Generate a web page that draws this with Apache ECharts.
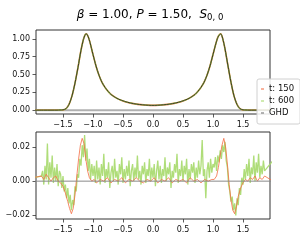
<!DOCTYPE html>
<html><head><meta charset="utf-8">
<script src="https://cdn.jsdelivr.net/npm/echarts@6/dist/echarts.min.js"></script>
<style>html,body{margin:0;padding:0;background:#fff}#c{width:300px;height:250px}</style>
</head><body><div id="c"></div>
<script>
// ---- data ----
const xTicks = [-1.5, -1.0, -0.5, 0.0, 0.5, 1.0, 1.5];
const yTicksTop = [0, 0.25, 0.5, 0.75, 1.0];
const yTicksBottom = [-0.02, 0, 0.02];
const seriesNames = ['t: 150', 't: 600', 'GHD'];

const topX = [-2.0,-1.8,-1.6,-1.55,-1.5,-1.45,-1.4,-1.35,-1.3,-1.25,-1.2,-1.16,-1.13,-1.11,-1.08,-1.05,-1.0,-0.95,-0.9,-0.85,-0.8,-0.75,-0.7,-0.6,-0.5,-0.4,-0.3,-0.2,-0.1,0,
  0.1,0.2,0.3,0.4,0.5,0.6,0.7,0.75,0.8,0.85,0.9,0.95,1.0,1.05,1.08,1.11,1.13,1.16,1.2,1.25,1.3,1.35,1.4,1.45,1.5,1.55,1.6,1.8,2.0];
const topGHD = [0,0,0,0.002,0.004,0.02,0.08,0.2,0.38,0.6,0.84,0.99,1.06,1.07,1.03,0.95,0.78,0.62,0.49,0.39,0.32,0.265,0.22,0.165,0.13,0.105,0.088,0.077,0.07,0.067,
  0.07,0.077,0.088,0.105,0.13,0.165,0.22,0.265,0.32,0.39,0.49,0.62,0.78,0.94,1.02,1.06,1.07,1.01,0.86,0.62,0.39,0.2,0.08,0.02,0.004,0.002,0,0,0];
const topT150 = topGHD;   // indistinguishable from GHD in the picture
const topT600 = topGHD;

// t: 600 minus GHD, sampled from -1.86 every 0.02
const t600Start = -1.86, t600Step = 0.02;
const t600Diff = [
  0.003,0.006,-0.002,0.009,0.001,0.022,-0.002,0.011,0.002,0.015,-0.001,0.008,0.000,0.010,-0.003,0.006,
  0.004,-0.004,0.003,-0.006,-0.002,-0.010,-0.004,-0.013,-0.008,-0.017,-0.011,-0.014,-0.003,
  -0.006,0.004,0.002,0.013,0.009,0.021,0.014,0.027,0.012,0.019,0.006,0.013,0.001,0.010,
  0.003,0.009,-0.001,0.012,0.001,0.008,-0.002,0.010,0.003,0.016,-0.001,0.007,0.002,0.011,-0.004,0.005,0.009,0.000,0.013,0.002,
  0.006,-0.002,0.010,0.004,0.014,-0.001,0.007,0.001,0.009,0.003,0.012,-0.003,0.006,0.010,0.000,0.008,0.002,0.015,0.001,0.006,
  -0.002,0.009,0.004,0.011,-0.001,0.007,0.003,0.013,0.000,0.008,0.002,0.010,-0.003,0.006,0.012,0.001,0.009,-0.001,0.007,0.003,
  0.014,0.000,0.008,0.004,0.011,-0.004,0.006,0.002,0.010,0.005,0.016,-0.001,0.007,0.003,0.012,0.000,0.009,0.004,0.013,-0.002,
  0.007,0.001,0.010,0.005,0.011,-0.001,0.008,0.002,0.012,0.004,0.009,0.024,0.003,0.007,-0.010,0.006,0.011,0.002,0.013,0.005,0.010,
  0.008,0.014,0.006,0.015,0.011,0.018,0.013,0.021,0.017,0.023,0.012,0.008,
  -0.002,-0.006,-0.012,-0.009,-0.017,-0.013,-0.020,-0.010,-0.014,-0.004,-0.008,0.002,
  -0.002,0.007,0.001,0.010,0.003,0.013,-0.001,0.008,0.004,0.015,0.000,0.011,0.005,0.016,0.002,0.009,0.004,0.012,0.006
];
const t600EdgeX = [-2.0, 2.0];
const t600EdgeDiff = [0.002, 0.012];

// t: 150 minus GHD
const t150X = [-2.0,-1.86,-1.82,-1.78,-1.74,-1.70,-1.66,-1.62,-1.58,-1.54,-1.50,-1.46,-1.42,-1.39,-1.36,-1.33,-1.30,-1.27,-1.24,-1.21,-1.18,-1.15,-1.12,-1.09,-1.06,-1.02,-0.98,
  -0.94,-0.88,-0.82,-0.76,-0.70,-0.64,-0.58,-0.52,-0.46,-0.40,-0.34,-0.28,-0.22,-0.16,-0.10,-0.04,0.02,0.08,0.14,0.20,0.26,0.32,0.38,0.44,0.50,0.56,0.62,0.68,0.74,0.80,0.86,0.92,0.98,
  1.02,1.06,1.09,1.12,1.15,1.18,1.21,1.24,1.27,1.30,1.33,1.36,1.39,1.42,1.46,1.50,1.54,1.58,1.62,1.66,1.70,1.74,1.78,1.82,1.86,2.0];
const t150Diff = [0.002,0.003,0.001,0.004,0.002,0.000,0.002,0.003,0.000,-0.001,-0.003,-0.007,-0.012,-0.016,-0.019,-0.016,-0.008,0.003,0.013,0.021,0.025,0.022,0.013,0.006,0.002,0.000,0.001,
  -0.001,0.001,0.000,0.002,-0.001,0.001,0.000,0.002,-0.001,0.001,0.000,0.002,0.000,-0.001,0.001,0.000,0.002,-0.001,0.001,0.000,0.002,-0.001,0.001,0.000,0.001,-0.001,0.002,0.000,0.001,-0.001,0.001,0.000,0.001,
  0.001,0.003,0.008,0.015,0.021,0.025,0.020,0.010,-0.002,-0.011,-0.017,-0.019,-0.015,-0.009,-0.004,-0.001,0.001,0.000,0.002,0.001,0.003,0.000,0.002,0.001,0.003,0.000];
const ghdDiff = [0, 0];
const ghdDiffX = [-2.0, 2.0];

// ---- build ----
const pairs = (xs, ys) => xs.map((x, i) => [x, ys[i]]);
const t600Pairs = [[t600EdgeX[0], t600EdgeDiff[0]]]
  .concat(t600Diff.map((v, i) => [+(t600Start + i * t600Step).toFixed(2), v]))
  .concat([[t600EdgeX[1], t600EdgeDiff[1]]]);

const FONT = 'DejaVu Sans';
const cOrange = '#f46d43', cGreen = '#a6d96a', cGrey = '#999999';
const fmtX = v => (v < 0 ? '\u2212' : '') + Math.abs(v).toFixed(1);
const fmtY = v => (v < -1e-9 ? '\u2212' : '') + Math.abs(v).toFixed(2);

function xAxis(gi) {
  return {
    type: 'value', gridIndex: gi, min: -1.95, max: 1.95, position: 'bottom',
    splitLine: { show: false }, axisLine: { show: false, onZero: false },
    axisTick: { show: true, length: 3.5, customValues: xTicks, lineStyle: { color: '#333', width: 0.8 } },
    axisLabel: { customValues: xTicks, formatter: fmtX, fontFamily: FONT, fontSize: 8, color: '#111', margin: 7 }
  };
}
function yAxis(gi, min, max, ticks) {
  return {
    type: 'value', gridIndex: gi, min: min, max: max, position: 'left',
    splitLine: { show: false }, axisLine: { show: false, onZero: false },
    axisTick: { show: true, length: 3.5, customValues: ticks, lineStyle: { color: '#333', width: 0.8 } },
    axisLabel: { customValues: ticks, formatter: fmtY, fontFamily: FONT, fontSize: 8, color: '#111', margin: 6 }
  };
}

const chart = echarts.init(document.getElementById('c'), null, { renderer: 'canvas' });
chart.setOption({
  animation: false,
  title: {
    text: '{i|\u03b2} = 1.00, {i|P} = 1.50,  {i|S}{s|0, 0}',
    left: 'center', top: 2,
    textStyle: {
      fontFamily: FONT, fontSize: 12, fontWeight: 'normal', color: '#000',
      rich: {
        i: { fontFamily: FONT, fontSize: 12, fontStyle: 'italic', color: '#000' },
        s: { fontFamily: FONT, fontSize: 8.5, color: '#000', padding: [6, 0, 0, 0] }
      }
    }
  },
  legend: {
    orient: 'vertical', left: 257, top: 79,
    icon: 'rect', itemWidth: 3, itemHeight: 1.5, itemGap: 2,
    padding: [5, 6, 6, 4],
    backgroundColor: 'rgba(255,255,255,0.85)', borderColor: '#d0d0d0', borderWidth: 1, borderRadius: 2,
    textStyle: { fontFamily: FONT, fontSize: 8.5, color: '#111', lineHeight: 10 },
    data: [
      { name: seriesNames[0], itemStyle: { color: cOrange, opacity: 0.7 } },
      { name: seriesNames[1], itemStyle: { color: cGreen, opacity: 0.7 } },
      { name: seriesNames[2], itemStyle: { color: cGrey } }
    ],
    z: 20
  },
  grid: [
    { left: 36, top: 30, width: 234, height: 84, show: true, borderColor: '#333', borderWidth: 1, backgroundColor: 'transparent' },
    { left: 36, top: 132, width: 234, height: 87, show: true, borderColor: '#333', borderWidth: 1, backgroundColor: 'transparent' }
  ],
  xAxis: [xAxis(0), xAxis(1)],
  yAxis: [yAxis(0, -0.054, 1.124, yTicksTop), yAxis(1, -0.0221, 0.0287, yTicksBottom)],
  series: [
    { type: 'line', xAxisIndex: 0, yAxisIndex: 0, data: pairs(ghdDiffX, ghdDiff), showSymbol: false, silent: true,
      lineStyle: { color: '#b0b0b0', width: 2 }, z: 1 },
    { name: seriesNames[0], type: 'line', xAxisIndex: 0, yAxisIndex: 0, data: pairs(topX, topT150), showSymbol: false, smooth: 0.25,
      itemStyle: { color: cOrange }, lineStyle: { color: cOrange, width: 1.6 }, z: 2 },
    { name: seriesNames[1], type: 'line', xAxisIndex: 0, yAxisIndex: 0, data: pairs(topX, topT600), showSymbol: false, smooth: 0.25,
      itemStyle: { color: cGreen }, lineStyle: { color: cGreen, width: 1.4 }, z: 3 },
    { name: seriesNames[2], type: 'line', xAxisIndex: 0, yAxisIndex: 0, data: pairs(topX, topGHD), showSymbol: false, smooth: 0.25,
      itemStyle: { color: cGrey }, lineStyle: { color: '#3a3a22', width: 1 }, z: 4 },

    { name: seriesNames[1], type: 'line', xAxisIndex: 1, yAxisIndex: 1, data: t600Pairs, showSymbol: false,
      itemStyle: { color: cGreen }, lineStyle: { color: cGreen, width: 1.3, opacity: 0.9 }, z: 2 },
    { name: seriesNames[0], type: 'line', xAxisIndex: 1, yAxisIndex: 1, data: pairs(t150X, t150Diff), showSymbol: false,
      itemStyle: { color: cOrange }, lineStyle: { color: cOrange, width: 1, opacity: 0.8 }, z: 3 },
    { name: seriesNames[2], type: 'line', xAxisIndex: 1, yAxisIndex: 1, data: pairs(ghdDiffX, ghdDiff), showSymbol: false,
      itemStyle: { color: cGrey }, lineStyle: { color: '#8a8a8a', width: 1 }, z: 4 }
  ]
});
</script></body></html>
